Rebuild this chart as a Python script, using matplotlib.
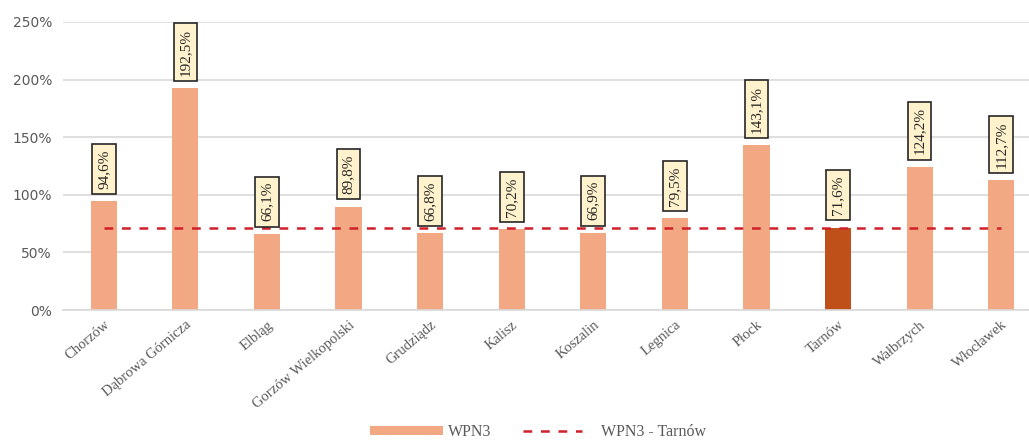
import matplotlib
matplotlib.use("Agg")
import matplotlib.pyplot as plt
from matplotlib.patches import Patch
from matplotlib.lines import Line2D
from matplotlib.legend_handler import HandlerLine2D
from matplotlib.ticker import FuncFormatter, MultipleLocator

cities = ["Chorzów", "Dąbrowa Górnicza", "Elbląg", "Gorzów Wielkopolski",
          "Grudziądz", "Kalisz", "Koszalin", "Legnica", "Płock", "Tarnów",
          "Wałbrzych", "Włocławek"]
wpn3 = [94.6, 192.5, 66.1, 89.8, 66.8, 70.2, 66.9, 79.5, 143.1, 71.6, 124.2, 112.7]
labels = ["94,6%", "192,5%", "66,1%", "89,8%", "66,8%", "70,2%", "66,9%",
          "79,5%", "143,1%", "71,6%", "124,2%", "112,7%"]
highlight = "Tarnów"
reference_value = 71.6

bar_color = "#F2A882"
highlight_color = "#C0501A"
line_color = "#D0202A"
text_gray = "#595959"
dash = (0, (3.5, 3.5))


class ShortLineHandler(HandlerLine2D):
    """Legend line drawn over the first 80% of the handle box."""
    def get_xdata(self, legend, xdescent, ydescent, width, height, fontsize):
        xdata, xmark = super().get_xdata(legend, xdescent, ydescent, width, height, fontsize)
        return [-xdescent, -xdescent + 0.8 * width], xmark


fig = plt.figure(figsize=(10.29, 4.41), dpi=100)
ax = fig.add_axes([63 / 1029, 131 / 441, 979 / 1029, 288 / 441])

x = list(range(len(cities)))
colors = [highlight_color if c == highlight else bar_color for c in cities]
ax.bar(x, wpn3, width=0.32, color=colors, zorder=2)

ax.plot([x[0], x[-1]], [reference_value, reference_value], color=line_color,
        linestyle=dash, linewidth=1.8, zorder=3)

for xi, v, lab in zip(x, wpn3, labels):
    ax.annotate(lab, (xi, v), xytext=(0, 9), textcoords="offset points",
                rotation=90, ha="center", va="bottom",
                family="Liberation Serif", fontsize=11, color="#262626",
                bbox=dict(boxstyle="square,pad=0.35", fc="#FFF2CC", ec="#262626", lw=1.2),
                zorder=4)

ax.set_xlim(-0.5, len(cities) - 0.5)
ax.set_ylim(0, 250)
ax.yaxis.set_major_locator(MultipleLocator(50))
ax.yaxis.set_major_formatter(FuncFormatter(lambda v, p: f"{v:.0f}%"))
ax.grid(axis="y", color="#D9D9D9", linewidth=1.2, zorder=0)
ax.set_axisbelow(True)
for s in ["top", "right", "left"]:
    ax.spines[s].set_visible(False)
ax.spines["bottom"].set_color("#D9D9D9")
ax.spines["bottom"].set_linewidth(1.2)
ax.tick_params(axis="both", length=0)
ax.tick_params(axis="y", labelsize=10, labelcolor=text_gray, pad=8)

ax.set_xticks(x)
ax.set_xticklabels(cities, rotation=40, ha="right", rotation_mode="anchor",
                   family="Liberation Serif", fontsize=10.5, color=text_gray)
ax.tick_params(axis="x", pad=6)

line_handle = Line2D([0], [0], color=line_color, linestyle=dash, linewidth=1.8)
handles = [Patch(facecolor=bar_color, edgecolor="none"), line_handle]
fig.legend(handles, ["WPN3", "WPN3 - Tarnów"], loc="center",
           bbox_to_anchor=(538 / 1029, 1 - 432 / 441), ncol=2, frameon=False,
           handlelength=4.6, handleheight=0.45, handletextpad=0.3, columnspacing=2.0,
           borderpad=0.1, handler_map={line_handle: ShortLineHandler()},
           prop={"family": "Liberation Serif", "size": 11.5}, labelcolor=text_gray)

fig.savefig("out.png", dpi=100)
